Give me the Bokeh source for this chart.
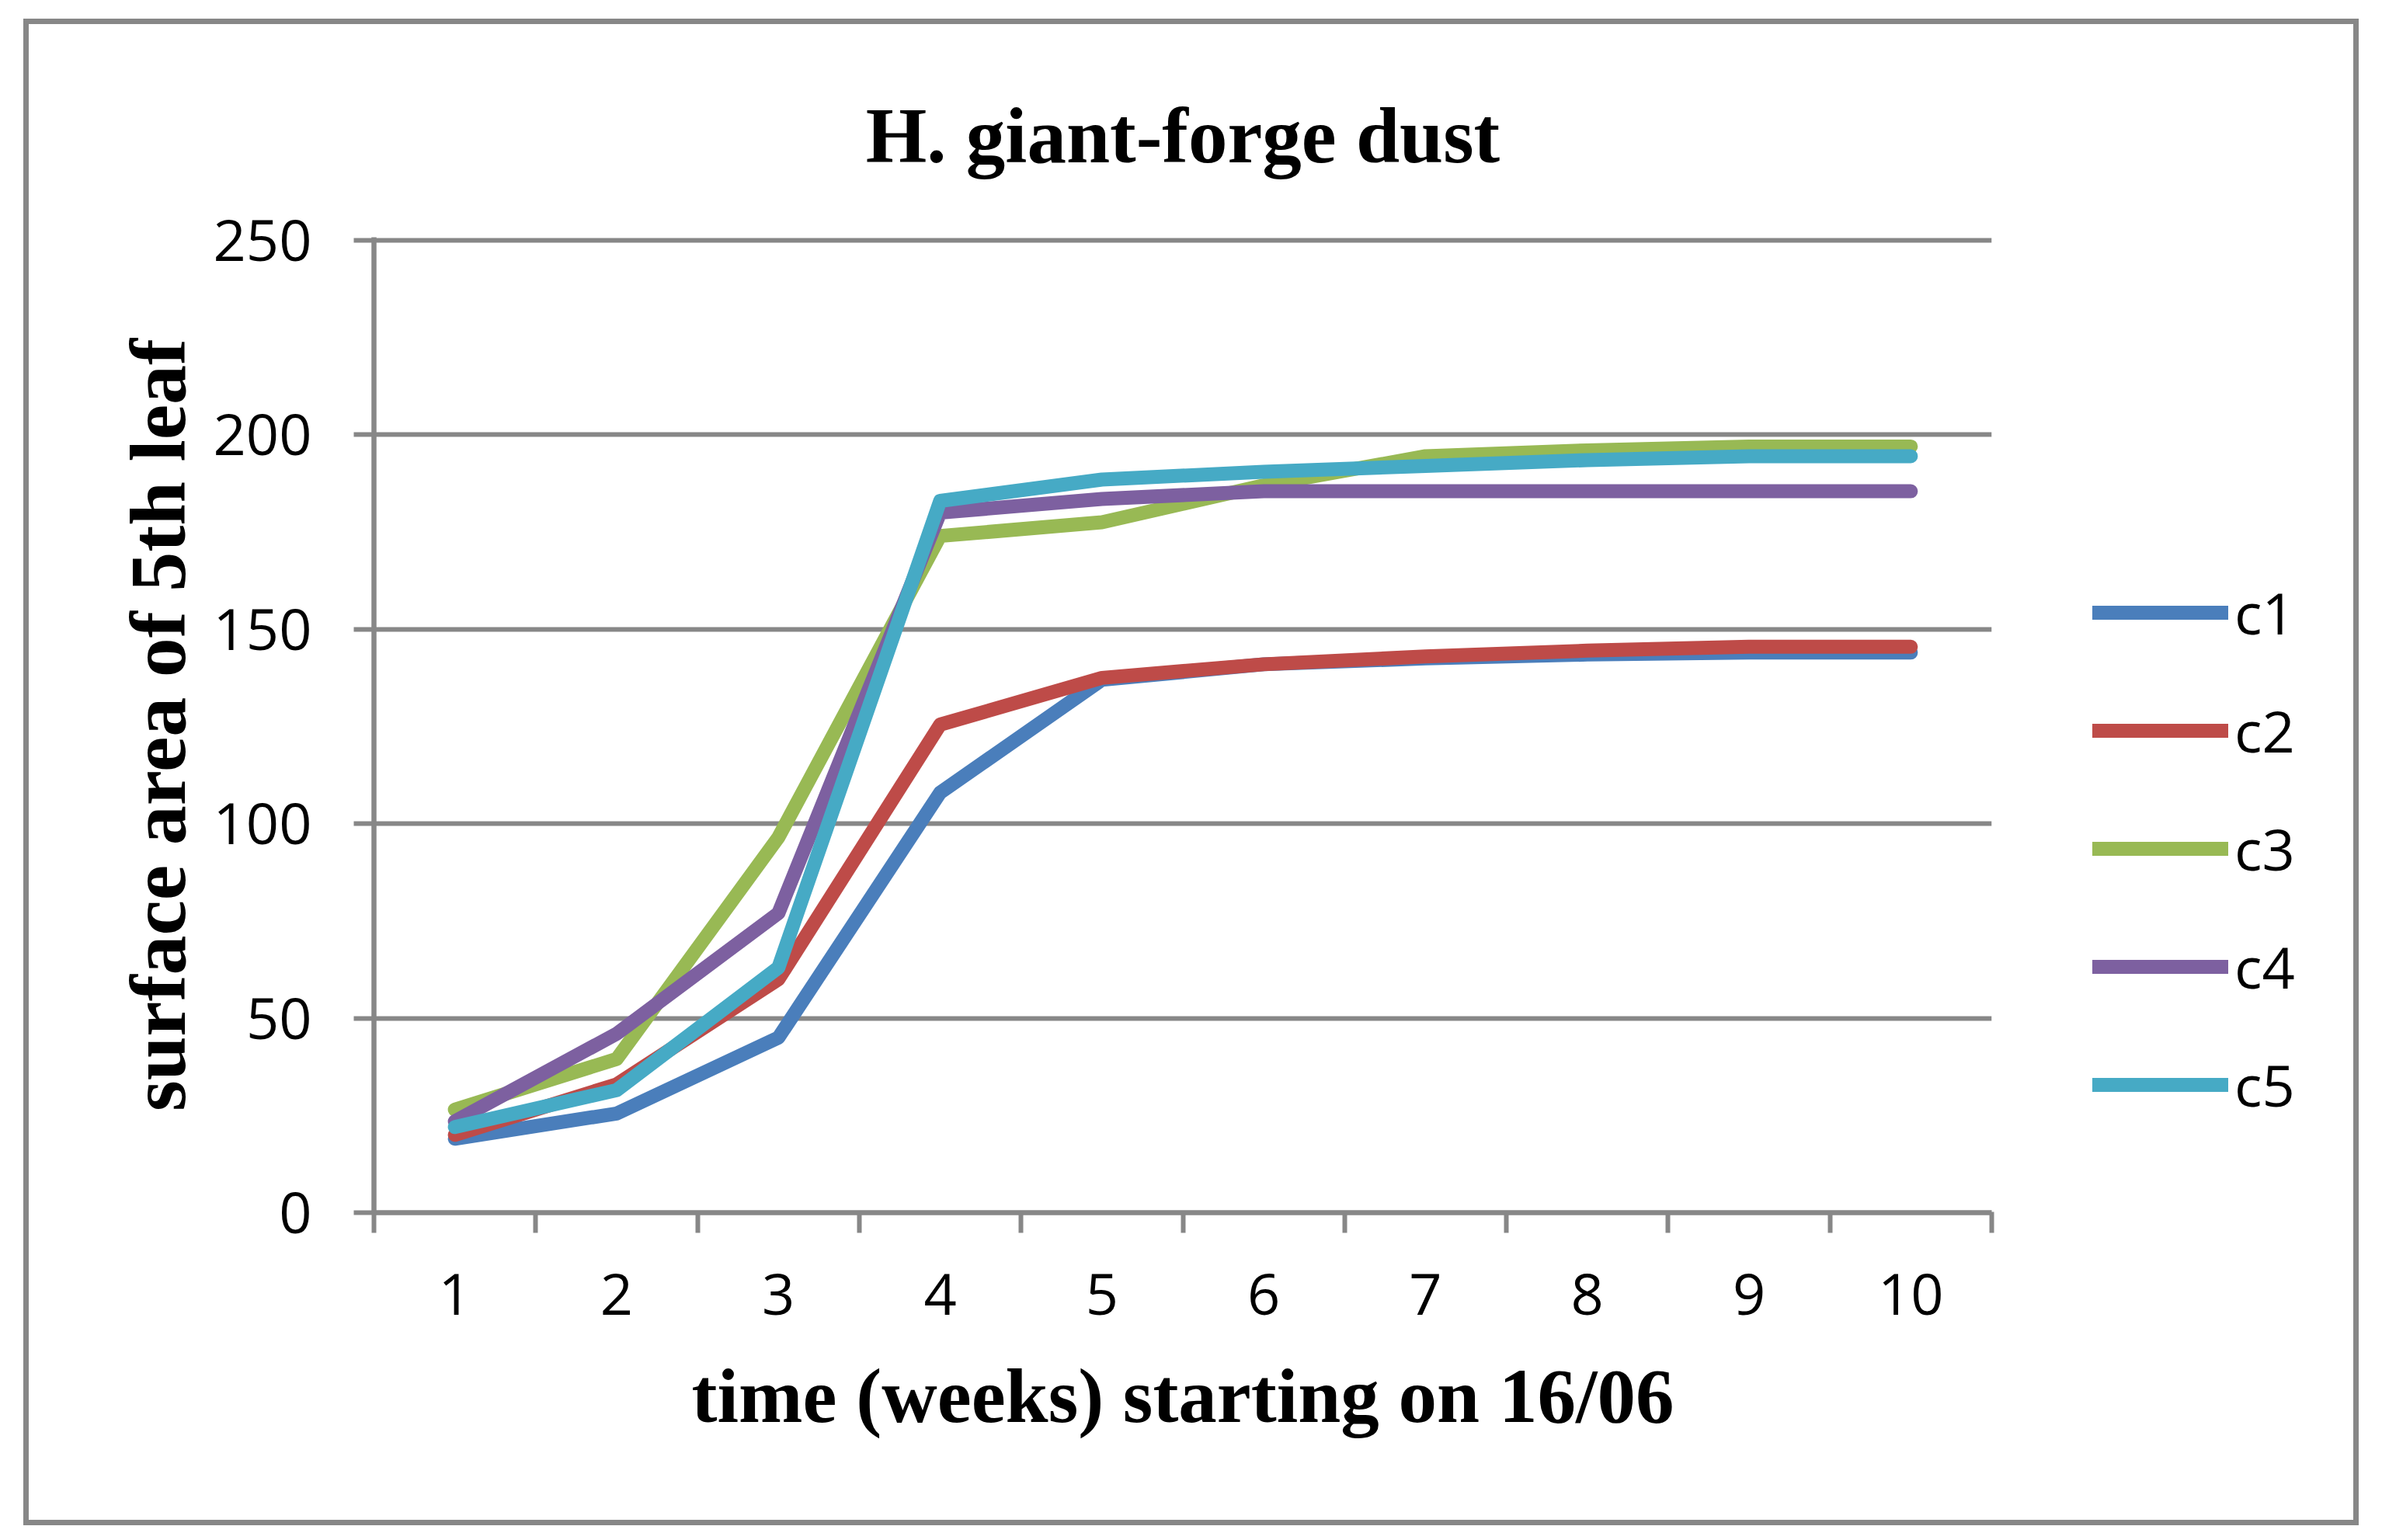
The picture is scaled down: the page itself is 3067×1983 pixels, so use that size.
from bokeh.plotting import figure
from bokeh.models import Range1d, FixedTicker, Legend, LegendItem, InlineStyleSheet
from bokeh.embed import file_html
from bokeh.resources import INLINE

# ---- data ----
weeks = [1, 2, 3, 4, 5, 6, 7, 8, 9, 10]
series_names = ["c1", "c2", "c3", "c4", "c5"]
c1 = [19.0, 25.5, 45.0, 108.0, 137.0, 141.0, 142.5, 143.5, 144.0, 144.0]
c2 = [20.0, 33.0, 60.0, 125.5, 137.5, 141.0, 143.0, 144.5, 145.5, 145.5]
c3 = [26.5, 39.5, 96.5, 174.0, 177.5, 187.0, 194.5, 196.0, 197.0, 197.0]
c4 = [23.5, 46.0, 77.0, 180.0, 183.5, 185.5, 185.5, 185.5, 185.5, 185.5]
c5 = [22.0, 31.5, 63.0, 183.0, 188.5, 190.5, 192.0, 193.5, 194.5, 194.5]
y_ticks = [0, 50, 100, 150, 200, 250]
title_text = "H. giant-forge dust"
x_title = "time (weeks) starting on 16/06"
y_title = "surface area of 5th leaf"

series = [c1, c2, c3, c4, c5]
colors = ["#4A7EBB", "#BE4B48", "#98B954", "#7D60A0", "#46AAC5"]
GRAY = "#878787"
SERIF = "Liberation Serif"
SANS = "Open Sans"

border_css = InlineStyleSheet(css="""
:host { position: relative; }
:host::after {
  content: ""; position: absolute; left: 30px; top: 24px;
  width: 2993px; height: 1926px; border: 7px solid #878787;
  box-sizing: content-box; pointer-events: none;
}
""")

p = figure(
    frame_width=2083, frame_height=1256,
    min_border_left=481, min_border_right=486,
    min_border_top=305, min_border_bottom=405,
    x_range=Range1d(0.5, 10.5), y_range=Range1d(0, 250.8),
    output_backend="svg", toolbar_location=None,
    title=title_text,
)
p.stylesheets = [border_css]
p.outline_line_color = None
p.background_fill_color = "white"
p.border_fill_color = "white"

# title (font sizes avoid "N00px", which the SVG font parser misreads as a weight)
p.title.text_font = SERIF
p.title.text_font_size = "101px"
p.title.text_font_style = "bold"
p.title.text_color = "black"
p.title.align = "center"
p.title.offset = 10
p.title.standoff = 150

# grids
p.xgrid.visible = False
p.ygrid.grid_line_color = GRAY
p.ygrid.grid_line_width = 6

# y axis
p.yaxis.ticker = FixedTicker(ticks=y_ticks)
p.yaxis.axis_line_color = GRAY
p.yaxis.axis_line_width = 6.5
p.yaxis.major_tick_line_color = GRAY
p.yaxis.major_tick_line_width = 6
p.yaxis.major_tick_out = 26
p.yaxis.major_tick_in = 1
p.yaxis.major_label_text_font = SANS
p.yaxis.major_label_text_font_size = "74px"
p.yaxis.major_label_text_color = "black"
p.yaxis.major_label_standoff = 54
p.yaxis.axis_label = y_title
p.yaxis.axis_label_text_font = SERIF
p.yaxis.axis_label_text_font_size = "102px"
p.yaxis.axis_label_text_font_style = "bold"
p.yaxis.axis_label_text_color = "black"
p.yaxis.axis_label_standoff = 12

# x axis: labels at week centres, tick marks between weeks
boundaries = [w - 0.5 for w in weeks] + [weeks[-1] + 0.5]
p.xaxis.ticker = FixedTicker(ticks=weeks, minor_ticks=boundaries)
p.xaxis.axis_line_color = GRAY
p.xaxis.axis_line_width = 6.5
p.xaxis.major_tick_line_color = None
p.xaxis.major_tick_out = 1
p.xaxis.major_tick_in = 1
p.xaxis.minor_tick_out = 26
p.xaxis.minor_tick_in = 1
p.xaxis.minor_tick_line_color = GRAY
p.xaxis.minor_tick_line_width = 6
p.xaxis.major_label_text_font = SANS
p.xaxis.major_label_text_font_size = "74px"
p.xaxis.major_label_text_color = "black"
p.xaxis.major_label_standoff = 52
p.xaxis.axis_label = x_title
p.xaxis.axis_label_text_font = SERIF
p.xaxis.axis_label_text_font_size = "99px"
p.xaxis.axis_label_text_font_style = "bold"
p.xaxis.axis_label_text_color = "black"
p.xaxis.axis_label_standoff = 47

# lines
items = []
for name, vals, col in zip(series_names, series, colors):
    r = p.line(weeks, vals, line_color=col, line_width=18,
               line_cap="round", line_join="round")
    items.append(LegendItem(label=name, renderers=[r]))

legend = Legend(
    items=items, location=(130, 114),
    glyph_width=175, glyph_height=101, label_height=101,
    spacing=51, label_standoff=8, padding=10, margin=0,
    border_line_color=None, background_fill_alpha=0,
    label_text_font=SANS, label_text_font_size="74px",
    label_text_color="black",
)
p.add_layout(legend, "right")

open("out.html", "w").write(file_html(p, INLINE))
